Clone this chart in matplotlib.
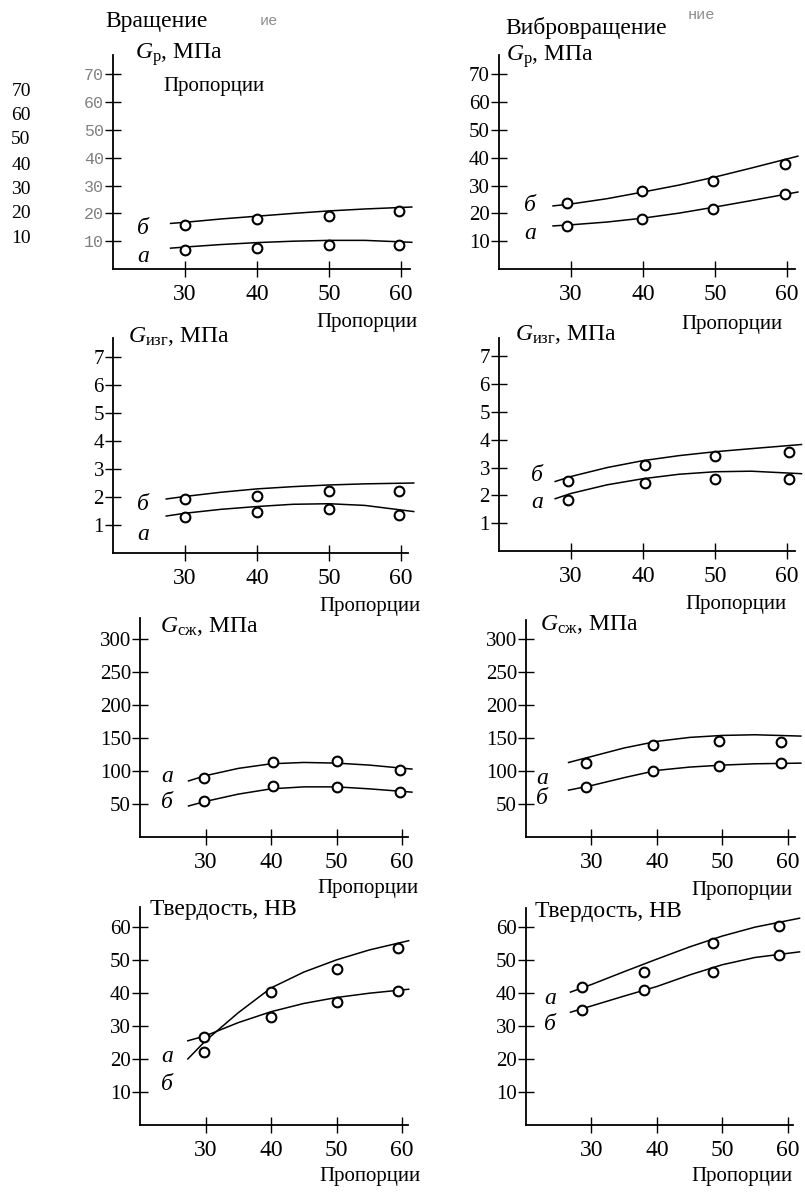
import numpy as np
import matplotlib
matplotlib.use('Agg')
import matplotlib.pyplot as plt

plt.rcParams['font.family'] = ['Liberation Serif', 'DejaVu Serif']
plt.rcParams['mathtext.fontset'] = 'custom'
plt.rcParams['mathtext.rm'] = 'Liberation Serif'
plt.rcParams['mathtext.it'] = 'Liberation Serif:italic'

W, H = 805, 1193

# --- data: measured points (circles) and drawn trend lines, series а and б ---
x_ticks = [30, 40, 50, 60]

# Gр, rotation
gp_rot_x = [30, 40, 50, 59.7]
gp_rot_a = [6.8, 7.5, 8.6, 8.6]
gp_rot_b = [15.8, 18.0, 19.0, 20.9]
gp_rot_cx = [28, 30, 35, 40, 45, 50, 55, 61.5]
gp_rot_ca = [7.5, 7.9, 8.8, 9.5, 10.0, 10.3, 10.3, 9.6]
gp_rot_cb = [16.4, 16.8, 18.0, 19.0, 20.0, 20.9, 21.6, 22.3]

# Gр, vibro-rotation
gp_vib_x = [29.5, 39.8, 49.7, 59.7]
gp_vib_a = [15.5, 18.0, 21.6, 27.0]
gp_vib_b = [23.7, 28.1, 31.7, 37.8]
gp_vib_cx = [27.5, 30, 35, 40, 45, 50, 55, 61.5]
gp_vib_ca = [15.5, 15.9, 16.9, 18.3, 20.1, 22.3, 24.6, 27.7]
gp_vib_cb = [22.7, 23.4, 25.3, 27.7, 30.2, 33.1, 36.3, 40.6]

# Gизг, rotation
gi_rot_x = [30, 40, 50, 59.7]
gi_rot_a = [1.29, 1.46, 1.57, 1.36]
gi_rot_b = [1.93, 2.04, 2.20, 2.20]
gi_rot_cx = [27.4, 30, 35, 40, 45, 50, 55, 61.8]
gi_rot_ca = [1.32, 1.42, 1.56, 1.66, 1.74, 1.76, 1.70, 1.48]
gi_rot_cb = [1.93, 2.02, 2.17, 2.29, 2.37, 2.43, 2.47, 2.50]

# Gизг, vibro-rotation
gi_vib_x = [29.6, 40.3, 50, 60.3]
gi_vib_a = [1.84, 2.45, 2.60, 2.60]
gi_vib_b = [2.53, 3.10, 3.40, 3.57]
gi_vib_cx = [27.8, 30, 35, 40, 45, 50, 55, 62]
gi_vib_ca = [1.88, 2.07, 2.38, 2.60, 2.76, 2.85, 2.87, 2.78]
gi_vib_cb = [2.50, 2.68, 3.00, 3.25, 3.43, 3.57, 3.68, 3.83]

# Gсж, rotation
gs_rot_x = [29.8, 40.3, 50, 59.7]
gs_rot_a = [89, 114, 115, 102]
gs_rot_b = [55, 77, 76, 68]
gs_rot_cx = [27.4, 30, 35, 40, 45, 50, 55, 61.5]
gs_rot_ca = [85, 93, 104, 111, 113, 112, 109, 103]
gs_rot_cb = [47, 54, 65, 73, 76, 76, 73, 68]

# Gсж, vibro-rotation
gs_vib_x = [29.1, 39.4, 49.5, 59]
gs_vib_a = [112, 139, 145, 144]
gs_vib_b = [76, 100, 107, 112]
gs_vib_cx = [26.5, 30, 35, 40, 45, 50, 55, 62]
gs_vib_ca = [113, 122, 135, 145, 151, 154, 155, 153]
gs_vib_cb = [71, 78, 90, 101, 106, 109, 111, 112]

# hardness HB, rotation
hb_rot_x = [29.7, 40, 50, 59.3]
hb_rot_a = [22, 40.3, 47.3, 53.6]
hb_rot_b = [26.7, 32.7, 37.3, 40.6]
hb_rot_cx = [27.3, 30, 35, 40, 45, 50, 55, 61]
hb_rot_ca = [20, 25.5, 34, 41.5, 46.3, 50, 53, 55.8]
hb_rot_cb = [25.5, 27, 31, 34.3, 36.8, 38.6, 39.9, 41.1]

# hardness HB, vibro-rotation
hb_vib_x = [28.6, 38.1, 48.5, 58.7]
hb_vib_a = [41.8, 46.4, 55.2, 60.3]
hb_vib_b = [34.8, 41.0, 46.4, 51.5]
hb_vib_cx = [26.8, 30, 35, 40, 45, 50, 55, 61.8]
hb_vib_ca = [40.3, 42.6, 46.5, 50.3, 54.0, 57.3, 60.0, 62.7]
hb_vib_cb = [34.2, 36.1, 39.1, 42.0, 45.5, 48.6, 50.8, 52.5]

side_titles = ['Вращение', 'Вибровращение']
x_label = 'Пропорции'


def px(x, y):
    return x / W, 1 - y / H


fig = plt.figure(figsize=(W / 100, H / 100), dpi=100)


def panel(box, xlim, ylim, yticks, xs, pa, pb, cx, ca, cb, gray_ticks=False):
    x0, y0, x1, y1 = box
    ax = fig.add_axes([x0 / W, 1 - y1 / H, (x1 - x0) / W, (y1 - y0) / H])
    ax.set_xlim(*xlim)
    ax.set_ylim(*ylim)
    ax.patch.set_alpha(0)
    for s in ['top', 'right']:
        ax.spines[s].set_visible(False)
    for s in ['left', 'bottom']:
        ax.spines[s].set_linewidth(1.3)
    ax.set_xticks(x_ticks)
    ax.set_yticks(yticks)
    ax.tick_params(direction='inout', length=11, width=1.0, pad=1)
    ax.tick_params(axis='x', labelsize=17, pad=5)
    ax.tick_params(axis='y', labelsize=15)
    if gray_ticks:
        for t in ax.get_yticklabels():
            t.set_family('Liberation Mono')
            t.set_color('#808080')
            t.set_fontsize(12)
    for c in [ca, cb]:
        ax.plot(cx, c, color='black', lw=1.1, clip_on=False)
    for p in [pa, pb]:
        ax.plot(xs, p, 'o', ms=7, mfc='white', mec='black', mew=1.5, clip_on=False)
    return ax


panel((113, 55, 410, 269), (20, 61.25), (0, 77), range(10, 80, 10),
      gp_rot_x, gp_rot_a, gp_rot_b, gp_rot_cx, gp_rot_ca, gp_rot_cb, gray_ticks=True)
panel((499, 55, 795, 269), (20, 61.1), (0, 77), range(10, 80, 10),
      gp_vib_x, gp_vib_a, gp_vib_b, gp_vib_cx, gp_vib_ca, gp_vib_cb)
panel((113, 338, 408, 553), (20, 61.0), (0, 7.68), range(1, 8),
      gi_rot_x, gi_rot_a, gi_rot_b, gi_rot_cx, gi_rot_ca, gi_rot_cb)
panel((499, 338, 795, 551), (20, 61.1), (0, 7.66), range(1, 8),
      gi_vib_x, gi_vib_a, gi_vib_b, gi_vib_cx, gi_vib_ca, gi_vib_cb)
panel((140, 618, 408, 837), (20, 60.9), (0, 332), range(50, 350, 50),
      gs_rot_x, gs_rot_a, gs_rot_b, gs_rot_cx, gs_rot_ca, gs_rot_cb)
panel((526, 620, 795, 837), (20, 61.1), (0, 329), range(50, 350, 50),
      gs_vib_x, gs_vib_a, gs_vib_b, gs_vib_cx, gs_vib_ca, gs_vib_cb)
panel((140, 907, 408, 1125), (20, 60.9), (0, 66), range(10, 70, 10),
      hb_rot_x, hb_rot_a, hb_rot_b, hb_rot_cx, hb_rot_ca, hb_rot_cb)
panel((526, 908, 793, 1125), (20, 60.8), (0, 65.8), range(10, 70, 10),
      hb_vib_x, hb_vib_a, hb_vib_b, hb_vib_cx, hb_vib_ca, hb_vib_cb)

# column titles and leftover scan fragments
fig.text(*px(105, 22), side_titles[0], fontsize=17, va='center', ha='left')
fig.text(*px(505, 28), side_titles[1], fontsize=17, va='center', ha='left')
fig.text(*px(260, 21), 'ие', fontsize=11, va='center', ha='left',
         family='Liberation Mono', color='#8c8c8c')
fig.text(*px(688, 15), 'ние', fontsize=11, va='center', ha='left',
         family='Liberation Mono', color='#8c8c8c')
fig.text(*px(214, 86), x_label, fontsize=15, va='center', ha='center')
for v, y in zip(range(70, 0, -10), [92, 115, 140, 165, 190, 214, 239]):
    fig.text(*px(21, y), str(v), fontsize=14, va='center', ha='center')

# y-axis titles
y_titles = [
    (r'$G_{\mathrm{р}}$, МПа', 135, 55), (r'$G_{\mathrm{р}}$, МПа', 506, 57),
    (r'$G_{\mathrm{изг}}$, МПа', 128, 337), (r'$G_{\mathrm{изг}}$, МПа', 515, 335),
    (r'$G_{\mathrm{сж}}$, МПа', 160, 626), (r'$G_{\mathrm{сж}}$, МПа', 540, 625),
    ('Твердость, НВ', 150, 910), ('Твердость, НВ', 535, 912),
]
for t, x, y in y_titles:
    fig.text(*px(x, y), t, fontsize=17, va='center', ha='left')

# x-axis titles
for x, y in [(367, 323), (732, 325), (370, 606), (736, 604),
             (368, 889), (742, 890), (370, 1177), (742, 1176)]:
    fig.text(*px(x, y), x_label, fontsize=15, va='center', ha='center')

# series letters
letters = [
    ('б', 143, 228), ('а', 143, 257), ('б', 530, 205), ('а', 530, 233),
    ('б', 143, 505), ('а', 143, 535), ('б', 537, 475), ('а', 537, 503),
    ('а', 167, 777), ('б', 167, 803), ('а', 542, 778), ('б', 542, 799),
    ('а', 167, 1057), ('б', 167, 1085), ('а', 550, 998), ('б', 550, 1025),
]
for t, x, y in letters:
    fig.text(*px(x, y), t, fontsize=17, style='italic', va='center', ha='center')

fig.savefig('out.png', dpi=100, facecolor='white')
